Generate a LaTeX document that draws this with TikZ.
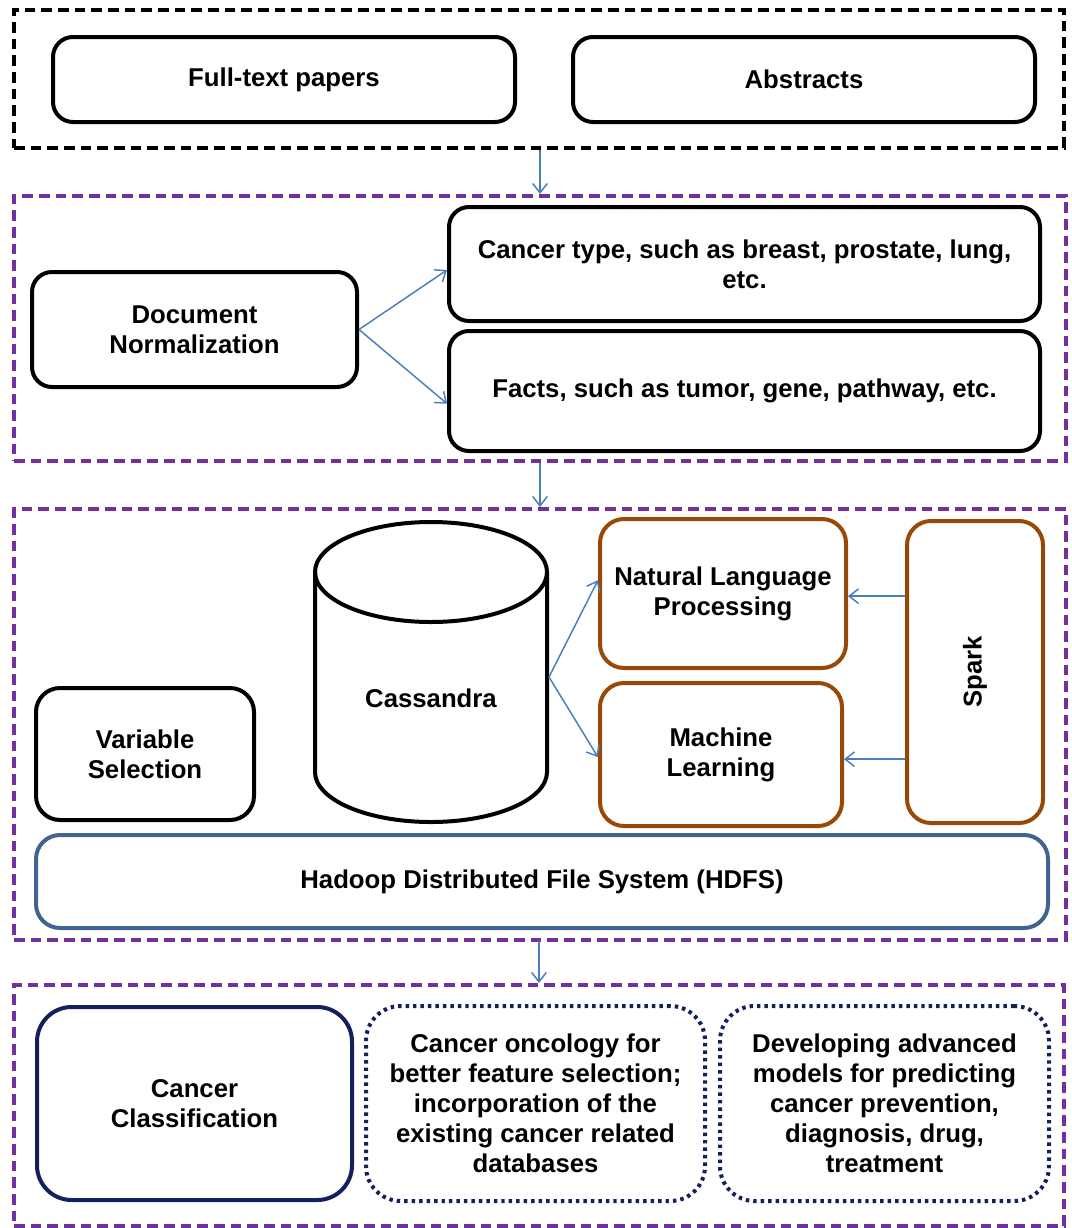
\documentclass[tikz,border=0pt]{standalone}
\usepackage{fontspec}
\setmainfont{Liberation Sans}
\usetikzlibrary{arrows.meta,calc}
\definecolor{purp}{HTML}{7030A0}
\definecolor{brn}{HTML}{984807}
\definecolor{steel}{HTML}{41638F}
\definecolor{navy}{HTML}{14205E}
\definecolor{arrblue}{HTML}{4A7EBB}
\begin{document}
\begin{tikzpicture}[x=0.75pt,y=-0.75pt,
  every node/.style={font=\fontsize{19.3}{22.5}\selectfont\bfseries, align=center, inner sep=0pt},
  container/.style={draw, rectangle, line width=3pt, dash pattern=on 8pt off 4.5pt},
  blk/.style={draw=black, rounded corners=15pt, line width=3pt},
  brbox/.style={draw=brn, rounded corners=18pt, line width=3pt},
  dotbox/.style={draw=navy, rounded corners=26pt, line width=3pt, dash pattern=on 2.6pt off 3pt},
  arr/.style={draw=arrblue, line width=1.1pt, -{Straight Barb[length=7pt,width=11pt]}}
]
\useasboundingbox (0,0) rectangle (1071,1228);

% containers
\node[container, draw=black, minimum width=787.5pt, minimum height=103.5pt] (C1) at (539,79) {};
\node[container, draw=purp, minimum width=789pt, minimum height=198.75pt] (C2) at (540,328.5) {};
\node[container, draw=purp, minimum width=789pt, minimum height=323.25pt] (C3) at (540,724.5) {};
\node[container, draw=purp, minimum width=787.5pt, minimum height=180.75pt] (C4) at (539,1105.5) {};

% row 1
\node[blk, minimum width=346.5pt, minimum height=63.75pt] (FT) at (284,79.5) {Full-text papers};
\node[blk, minimum width=346.5pt, minimum height=63.75pt] (AB) at (804,79.5) {Abstracts};

% row 2
\node[blk, minimum width=243.75pt, minimum height=86.25pt] (DN) at (194.5,329.5) {Document\\Normalization};
\node[blk, minimum width=443.25pt, minimum height=85.5pt] (CT) at (744.5,264) {Cancer type, such as breast, prostate, lung,\\etc.};
\node[blk, minimum width=443.25pt, minimum height=90pt] (FC) at (744.5,391) {Facts, such as tumor, gene, pathway, etc.};

% row 3
\node[blk, rounded corners=18pt, minimum width=163.5pt, minimum height=99pt] (VS) at (145,754) {Variable\\Selection};
\draw[line width=3pt] (431,572) ellipse [x radius=87pt, y radius=37.5pt];
\draw[line width=3pt] (315,572) -- (315,772) arc[start angle=180, end angle=360, x radius=87pt, y radius=37.5pt] -- (547,572);
\node (CA) at (431,698) {Cassandra};
\coordinate (CAr) at (549,677);
\node[brbox, minimum width=184.5pt, minimum height=111.75pt] (NLP) at (723,593.5) {Natural Language\\Processing};
\node[brbox, minimum width=181.5pt, minimum height=107.25pt] (ML) at (721,754.5) {Machine\\Learning};
\node[brbox, minimum width=102pt, minimum height=226.5pt] (SP) at (975,672) {};
\node[rotate=90] (SPt) at (975,672) {Spark};
\node[draw=steel, rounded corners=18pt, line width=3pt, minimum width=759pt, minimum height=69.75pt] (HD) at (542,881.5) {Hadoop Distributed File System (HDFS)};

% row 4
\node[draw=navy, rounded corners=26pt, line width=3pt, minimum width=236.25pt, minimum height=144.75pt] (CC) at (194.5,1103.5) {Cancer\\Classification};
\node[dotbox, minimum width=254.25pt, minimum height=146.25pt] (ON) at (535.5,1103.5) {Cancer oncology for\\better feature selection;\\incorporation of the\\existing cancer related\\databases};
\node[dotbox, minimum width=246.75pt, minimum height=146.25pt] (DV) at (884.5,1103.5) {Developing advanced\\models for predicting\\cancer prevention,\\diagnosis, drug,\\treatment};

% arrows
\draw[arr] (C2.north |- C1.south) -- (C2.north);
\draw[arr] (C2.south) -- (C3.north);
\draw[arr] (C3.south) -- (C4.north |- C3.south) -- (C4.north);
\draw[arr] (DN.east) -- ([yshift=-4.5pt]CT.west);
\draw[arr] (DN.east) -- ([yshift=-9.5pt]FC.west);
\draw[arr] (CAr) -- ([yshift=10pt]NLP.west);
\draw[arr] (CAr) -- ([yshift=-2pt]ML.west);
\draw[arr] ([yshift=-2pt]SP.west |- NLP.east) -- ([yshift=-2pt]NLP.east);
\draw[arr] ([yshift=-3.5pt]SP.west |- ML.east) -- ([yshift=-3.5pt]ML.east);
\end{tikzpicture}
\end{document}
